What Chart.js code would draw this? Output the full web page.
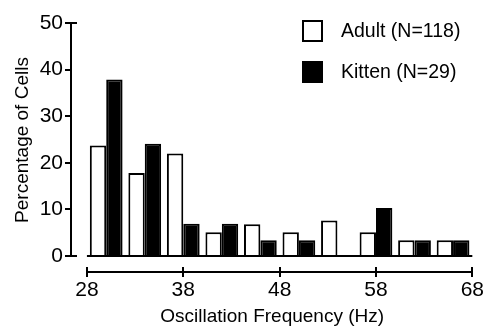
<!DOCTYPE html>
<html>
<head>
<meta charset="utf-8">
<script src="https://cdn.jsdelivr.net/npm/chart.js@4.4.1/dist/chart.umd.min.js"></script>
<style>
html, body { margin: 0; padding: 0; background: #fff; }
#wrap { width: 490px; height: 326px; position: relative; }
canvas { display: block; }
</style>
</head>
<body>
<div id="wrap"><canvas id="c" width="490" height="326"></canvas></div>
<script>
// ---- data ----
const binCenters = [30, 34, 38, 42, 46, 50, 54, 58, 62, 66];
const adultPercent = [23.7, 17.8, 22.0, 5.1, 6.8, 5.1, 7.6, 5.1, 3.4, 3.4];
const kittenPercent = [37.9, 24.1, 6.9, 6.9, 3.4, 3.4, 0, 10.3, 3.4, 3.4];
const xTickValues = [28, 38, 48, 58, 68];
const yTickValues = [0, 10, 20, 30, 40, 50];
const seriesNames = ['Adult (N=118)', 'Kitten (N=29)'];
const xAxisTitle = 'Oscillation Frequency (Hz)';
const yAxisTitle = 'Percentage of Cells';

// ---- styling ----
const FONT = "'Liberation Sans', Arial, Helvetica, sans-serif";
const INK = '#000000';

const axesPlugin = {
  id: 'detachedAxes',
  afterDatasetsDraw(chart) {
    const { ctx, chartArea, scales: { x, y } } = chart;
    ctx.save();
    ctx.strokeStyle = INK;
    ctx.lineWidth = 2;
    ctx.lineCap = 'butt';
    // y axis line
    const ax = chartArea.left - 1;
    const yTop = y.getPixelForValue(yTickValues[yTickValues.length - 1]);
    const yBot = y.getPixelForValue(yTickValues[0]);
    ctx.beginPath();
    ctx.moveTo(ax, yTop - 1);
    ctx.lineTo(ax, yBot + 1);
    ctx.stroke();
    yTickValues.forEach((v, i) => {
      const py = Math.round(y.getPixelForValue(v));
      const isEnd = i === 0 || i === yTickValues.length - 1;
      ctx.beginPath();
      ctx.moveTo(ax - 6, py);
      ctx.lineTo(isEnd ? ax + 6 : ax, py);
      ctx.stroke();
    });
    // baseline at zero under the bars
    const by = Math.round(y.getPixelForValue(0));
    ctx.beginPath();
    ctx.moveTo(x.getPixelForValue(xTickValues[0]), by);
    ctx.lineTo(x.getPixelForValue(xTickValues[xTickValues.length - 1]), by);
    ctx.stroke();
    // detached x axis
    const xy = chartArea.bottom;
    ctx.beginPath();
    ctx.moveTo(x.getPixelForValue(xTickValues[0]), xy);
    ctx.lineTo(x.getPixelForValue(xTickValues[xTickValues.length - 1]), xy);
    ctx.stroke();
    xTickValues.forEach(v => {
      const px = Math.round(x.getPixelForValue(v));
      ctx.beginPath();
      ctx.moveTo(px, xy - 5);
      ctx.lineTo(px, xy + 5);
      ctx.stroke();
    });
    ctx.restore();
  },
  afterDraw(chart) {
    const { ctx } = chart;
    ctx.save();
    // y axis title
    ctx.fillStyle = INK;
    ctx.font = "19px " + FONT;
    ctx.textAlign = 'center';
    ctx.textBaseline = 'middle';
    ctx.translate(23, 140);
    ctx.rotate(-Math.PI / 2);
    ctx.fillText(yAxisTitle, 0, 0);
    ctx.restore();

    // legend
    ctx.save();
    const ds = chart.data.datasets;
    const rows = [31, 72];
    ds.forEach((d, i) => {
      const cy = rows[i];
      ctx.lineWidth = 2;
      ctx.strokeStyle = INK;
      ctx.fillStyle = d.backgroundColor;
      ctx.fillRect(303, cy - 10, 19, 20);
      ctx.strokeRect(303, cy - 10, 19, 20);
      ctx.fillStyle = INK;
      ctx.font = "19.5px " + FONT;
      ctx.textAlign = 'left';
      ctx.textBaseline = 'middle';
      ctx.fillText(d.label, 341, cy + 1);
    });
    ctx.restore();
  }
};

const chart = new Chart(document.getElementById('c'), {
  type: 'bar',
  data: {
    datasets: [
      {
        label: seriesNames[0],
        data: binCenters.map((c, i) => ({ x: c, y: adultPercent[i] })),
        backgroundColor: '#ffffff',
        borderColor: INK,
        borderWidth: 2,
        borderSkipped: 'start',
        categoryPercentage: 0.85,
        barPercentage: 1.0
      },
      {
        label: seriesNames[1],
        data: binCenters.map((c, i) => ({ x: c, y: kittenPercent[i] })),
        backgroundColor: '#000000',
        borderColor: INK,
        borderWidth: 2,
        borderSkipped: 'start',
        categoryPercentage: 0.85,
        barPercentage: 1.0
      }
    ]
  },
  options: {
    responsive: false,
    animation: false,
    devicePixelRatio: 1,
    layout: { padding: { top: 23, right: 14, left: 0, bottom: 0 } },
    plugins: { legend: { display: false }, tooltip: { enabled: false } },
    scales: {
      x: {
        type: 'linear',
        offset: false,
        min: 26.45,
        max: 68,
        afterBuildTicks: s => { s.ticks = xTickValues.map(v => ({ value: v })); },
        afterFit: s => { s.height = 54; },
        grid: { display: false, drawTicks: false, offset: false },
        border: { display: false },
        ticks: {
          color: INK,
          font: { family: FONT, size: 21 },
          padding: 6,
          maxRotation: 0,
          autoSkip: false,
          callback: v => String(v)
        },
        title: {
          display: true,
          text: xAxisTitle,
          color: INK,
          font: { family: FONT, size: 19, lineHeight: 1.0 },
          padding: { top: 0, bottom: 0 }
        }
      },
      y: {
        type: 'linear',
        min: -3.43,
        max: 50,
        afterBuildTicks: s => { s.ticks = yTickValues.map(v => ({ value: v })); },
        afterFit: s => { s.width = 72; },
        grid: { display: false, drawTicks: false },
        border: { display: false },
        ticks: {
          color: INK,
          font: { family: FONT, size: 21 },
          padding: 9,
          callback: v => String(v)
        }
      }
    }
  },
  plugins: [axesPlugin]
});
</script>
</body>
</html>
